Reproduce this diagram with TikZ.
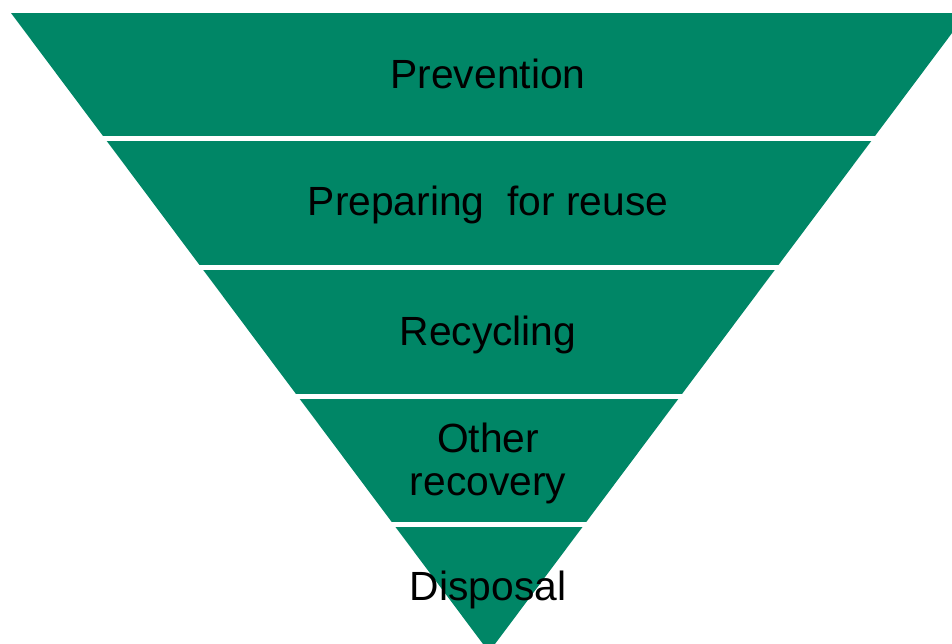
\documentclass[tikz,border=0pt]{standalone}
\usepackage{fontspec}
\setmainfont{Liberation Sans}
\definecolor{wastegreen}{RGB}{0,134,102}
\tikzset{tier/.style={anchor=base, inner sep=0pt, align=center, text=black,
		font=\fontsize{11.6}{12.2}\selectfont}}

\begin{document}
\begin{tikzpicture}[y=-1cm]
			\useasboundingbox (0,0) rectangle (9.52,6.43);
			\clip (0,0) rectangle (9.52,6.43);
			\fill [wastegreen] (0.11,0.13) -- (9.67,0.13) -- (4.89,6.52) -- cycle;
			\foreach \y in {1.385,2.675,3.965,5.245}
				\draw [white, line width=0.05cm] (0,\y) -- (9.52,\y);

			\node [tier] (prevention) at (4.88,0.88) {Prevention};
			\node [tier] (reuse) at (4.88,2.15) {Preparing\ \ for reuse};
			\node [tier] (recycling) at (4.88,3.45) {Recycling};
			\node [tier] (recovery) at (4.88,4.95) {Other\\recovery};
			\node [tier] (disposal) at (4.88,6.00) {Disposal};
		\end{tikzpicture}
\end{document}
